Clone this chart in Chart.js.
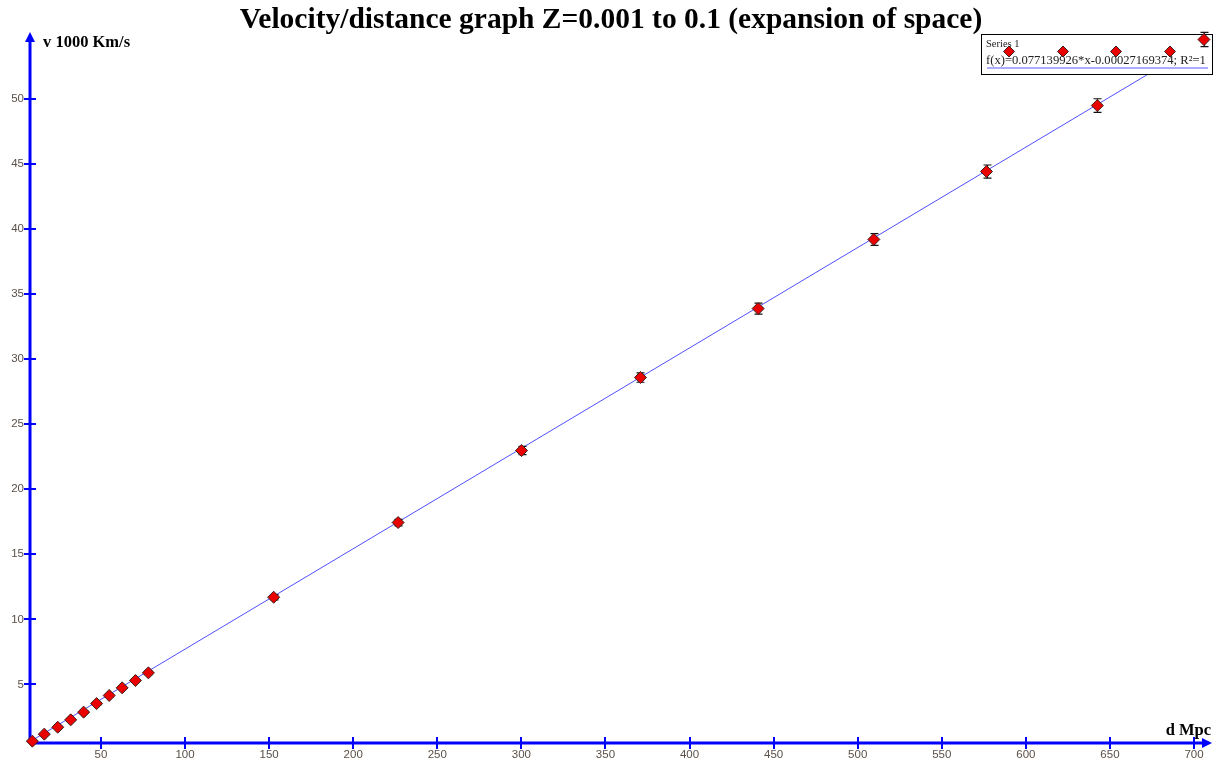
<!DOCTYPE html>
<html>
<head>
<meta charset="utf-8">
<script src="https://cdn.jsdelivr.net/npm/chart.js@4"></script>
<style>
  body { margin: 0; background: #fff; }
  #wrap { width: 1217px; height: 760px; position: relative; }
</style>
</head>
<body>
<div id="wrap"><canvas id="hubbleChart"></canvas></div>
<script>
// values
const distance = [9.2, 16.3, 24.3, 32.0, 39.7, 47.4, 54.9, 62.6, 70.5, 78.2,
  152.7, 226.7, 300.1, 370.8, 440.8, 509.6, 576.6, 642.5, 705.9];
const velocity = [0.64, 1.18, 1.71, 2.28, 2.87, 3.53, 4.15, 4.74, 5.30, 5.89,
  11.70, 17.44, 22.97, 28.58, 33.88, 39.19, 44.41, 49.48, 54.55];
const velocityErr = [0.05, 0.05, 0.06, 0.07, 0.08, 0.09, 0.1, 0.11, 0.12, 0.13,
  0.2, 0.25, 0.32, 0.36, 0.42, 0.45, 0.5, 0.52, 0.55];
const trendX = [7.8, 709.5];
const trendY = [0.6, 54.73];
const xTicks = [50, 100, 150, 200, 250, 300, 350, 400, 450, 500, 550, 600, 650, 700];
const yTicks = [5, 10, 15, 20, 25, 30, 35, 40, 45, 50];

const titleText = 'Velocity/distance graph Z=0.001 to 0.1 (expansion of space)';
const seriesName = 'Series 1';
const fitText = 'f(x)=0.077139926*x-0.00027169374; R\u00b2=1';

const ctx = document.getElementById('hubbleChart');
const blue = 'rgb(0,0,255)';

function diamond(c, x, y, r) {
  c.beginPath();
  c.moveTo(x, y - r); c.lineTo(x + r, y); c.lineTo(x, y + r); c.lineTo(x - r, y);
  c.closePath();
  c.fillStyle = 'rgb(235,0,0)';
  c.fill();
  c.strokeStyle = '#3a2020';
  c.lineWidth = 1;
  c.stroke();
}

const decor = {
  id: 'decor',
  beforeDatasetsDraw(chart) {
    const c = chart.ctx;
    const xs = chart.scales.x, ys = chart.scales.y;
    const a = chart.chartArea;
    c.save();
    // title
    c.fillStyle = '#000';
    c.font = 'bold 29.5px "Liberation Serif"';
    c.textAlign = 'center';
    c.textBaseline = 'middle';
    c.fillText(titleText, 611, 20);
    // axes
    c.strokeStyle = blue;
    c.fillStyle = blue;
    c.lineWidth = 3;
    c.beginPath();
    c.moveTo(a.left, a.bottom); c.lineTo(a.left, a.top + 4);
    c.moveTo(a.left, a.bottom); c.lineTo(a.right - 4, a.bottom);
    c.stroke();
    c.beginPath();
    c.moveTo(a.left, a.top - 3); c.lineTo(a.left - 5, a.top + 7); c.lineTo(a.left + 5, a.top + 7);
    c.closePath(); c.fill();
    c.beginPath();
    c.moveTo(a.right + 2, a.bottom); c.lineTo(a.right - 8, a.bottom - 5); c.lineTo(a.right - 8, a.bottom + 5);
    c.closePath(); c.fill();
    // ticks
    c.lineWidth = 2;
    c.beginPath();
    xTicks.forEach(v => {
      const px = Math.round(xs.getPixelForValue(v));
      c.moveTo(px, a.bottom - 6); c.lineTo(px, a.bottom + 6);
    });
    yTicks.forEach(v => {
      const py = Math.round(ys.getPixelForValue(v));
      c.moveTo(a.left - 6, py); c.lineTo(a.left + 6, py);
    });
    c.stroke();
    // tick labels
    c.fillStyle = '#5a5048';
    c.font = '11.5px "Liberation Sans"';
    c.textAlign = 'center';
    c.textBaseline = 'middle';
    xTicks.forEach(v => c.fillText(String(v), xs.getPixelForValue(v), a.bottom + 12));
    c.textAlign = 'right';
    yTicks.forEach(v => c.fillText(String(v), a.left - 6, ys.getPixelForValue(v)));
    // axis titles
    c.fillStyle = '#000';
    c.font = 'bold 16.5px "Liberation Serif"';
    c.textAlign = 'left';
    c.fillText('v 1000 Km/s', 43, 43);
    c.textAlign = 'right';
    c.fillText('d Mpc', 1211, 731);
    c.restore();
  },
  afterDatasetDraw(chart, args) {
    if (args.index !== 0) return;
    const c = chart.ctx;
    const xs = chart.scales.x, ys = chart.scales.y;
    c.save();
    // legend box
    c.fillStyle = '#fff';
    c.fillRect(981, 34, 232, 41);
    c.strokeStyle = '#000';
    c.lineWidth = 1;
    c.strokeRect(981.5, 34.5, 231, 40);
    c.fillStyle = '#222';
    c.font = '10.5px "Liberation Serif"';
    c.textAlign = 'left';
    c.textBaseline = 'middle';
    c.fillText(seriesName, 986, 44);
    c.font = '12.6px "Liberation Serif"';
    c.fillText(fitText, 986, 61);
    c.strokeStyle = 'rgb(90,90,255)';
    c.beginPath(); c.moveTo(987, 68); c.lineTo(1208, 68); c.stroke();
    [1009, 1063, 1116, 1170].forEach(x => diamond(c, x, 51.5, 5.5));
    // error bars
    c.strokeStyle = '#111';
    c.lineWidth = 1.2;
    c.beginPath();
    distance.forEach((d, i) => {
      const px = Math.round(xs.getPixelForValue(d)) + 0.5;
      const top = ys.getPixelForValue(velocity[i] + velocityErr[i]);
      const bot = ys.getPixelForValue(velocity[i] - velocityErr[i]);
      c.moveTo(px, top); c.lineTo(px, bot);
      c.moveTo(px - 4, top); c.lineTo(px + 4, top);
      c.moveTo(px - 4, bot); c.lineTo(px + 4, bot);
    });
    c.stroke();
    c.restore();
  }
};

new Chart(ctx, {
  type: 'scatter',
  data: {
    datasets: [{
      type: 'line',
      label: 'trend',
      data: trendX.map((x, i) => ({x: x, y: trendY[i]})),
      borderColor: 'rgb(80,80,255)',
      borderWidth: 1,
      pointRadius: 0,
      fill: false,
      order: 2
    }, {
      label: seriesName,
      data: distance.map((d, i) => ({x: d, y: velocity[i]})),
      pointStyle: 'rectRot',
      pointRadius: 6,
      backgroundColor: 'rgb(235,0,0)',
      borderColor: '#3a2020',
      borderWidth: 1,
      clip: false,
      order: 1
    }]
  },
  options: {
    responsive: true,
    maintainAspectRatio: false,
    animation: false,
    layout: { padding: { left: 30, right: 4, top: 35, bottom: 17 } },
    scales: {
      x: { type: 'linear', min: 7.8, max: 709.5, display: false },
      y: { type: 'linear', min: 0.5, max: 54.9, display: false }
    },
    plugins: {
      legend: { display: false },
      tooltip: { enabled: false }
    }
  },
  plugins: [decor]
});
</script>
</body>
</html>
